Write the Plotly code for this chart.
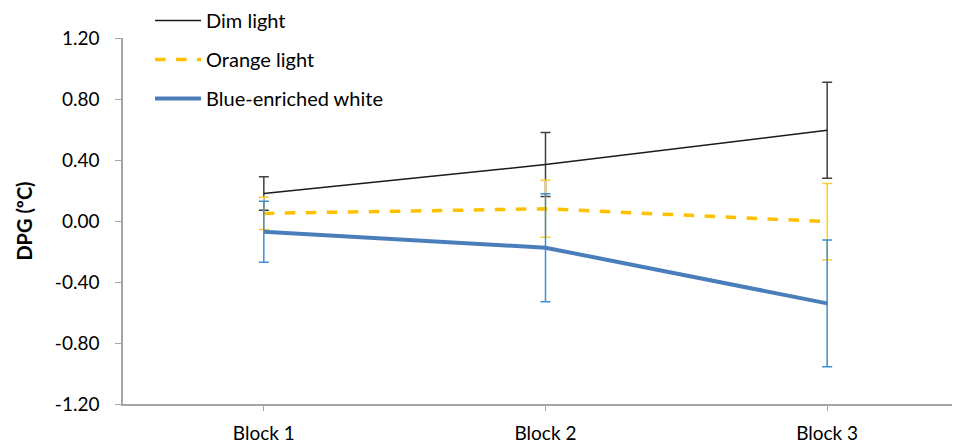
import plotly.graph_objects as go

categories = ["Block 1", "Block 2", "Block 3"]
dim_vals = [0.18, 0.37, 0.595]
dim_err = [0.11, 0.21, 0.315]
orange_vals = [0.05, 0.08, -0.004]
orange_err = [0.105, 0.187, 0.25]
blue_vals = [-0.07, -0.175, -0.54]
blue_err = [0.2, 0.354, 0.415]
y_ticks = [-1.2, -0.8, -0.4, 0.0, 0.4, 0.8, 1.2]
y_ticklabels = ["-1.20", "-0.80", "-0.40", "0.00", "0.40", "0.80", "1.20"]

FONT = "Lato, Calibri, Carlito, sans-serif"

fig = go.Figure()
fig.add_trace(go.Scatter(
    x=categories, y=dim_vals, name="Dim light", mode="lines",
    line=dict(color="#1a1a1a", width=1.5),
    error_y=dict(type="data", array=dim_err, color="#404040", thickness=1.5, width=5),
    legendgroup="a",
))
fig.add_trace(go.Scatter(
    x=categories, y=orange_vals, name="Orange light", mode="lines",
    line=dict(color="#FFC000", width=3.5, dash="dash"),
    error_y=dict(type="data", array=orange_err, color="#FFCC33", thickness=1.5, width=5),
    legendgroup="b",
))
fig.add_trace(go.Scatter(
    x=categories, y=blue_vals, name="Blue-enriched white", mode="lines",
    line=dict(color="#4A7EBB", width=4),
    error_y=dict(type="data", array=blue_err, color="#3A8FD6", thickness=1.5, width=5),
    legendgroup="c",
))

fig.update_layout(
    width=960, height=445,
    margin=dict(l=115, r=0, t=30, b=49, autoexpand=False),
    paper_bgcolor="white", plot_bgcolor="white",
    font=dict(family=FONT, size=19, color="black"),
    showlegend=True,
    legend=dict(x=0.032, y=1.101, xref="paper", yref="paper",
                xanchor="left", yanchor="top",
                font=dict(size=20, family=FONT), tracegroupgap=10,
                itemwidth=46, bgcolor="rgba(0,0,0,0)"),
    xaxis=dict(range=[-0.5, 2.5], showline=True, linecolor="#A6A6A6", linewidth=1.5,
               ticks="outside", ticklen=5, tickcolor="#A6A6A6", showgrid=False,
               zeroline=False, automargin=False, ticklabelstandoff=6,
               tickfont=dict(size=19, family=FONT)),
    yaxis=dict(range=[-1.2, 1.2], tickvals=y_ticks, ticktext=y_ticklabels,
               showline=True, linecolor="#A6A6A6", linewidth=1.5,
               ticks="outside", ticklen=6, tickcolor="#A6A6A6", showgrid=False,
               zeroline=False, automargin=False, ticklabelstandoff=12,
               tickfont=dict(size=19, family=FONT),
               title=dict(text="<b>DPG (ºC)</b>", font=dict(size=20, family=FONT), standoff=17)),
)

fig.write_html("out.html")
